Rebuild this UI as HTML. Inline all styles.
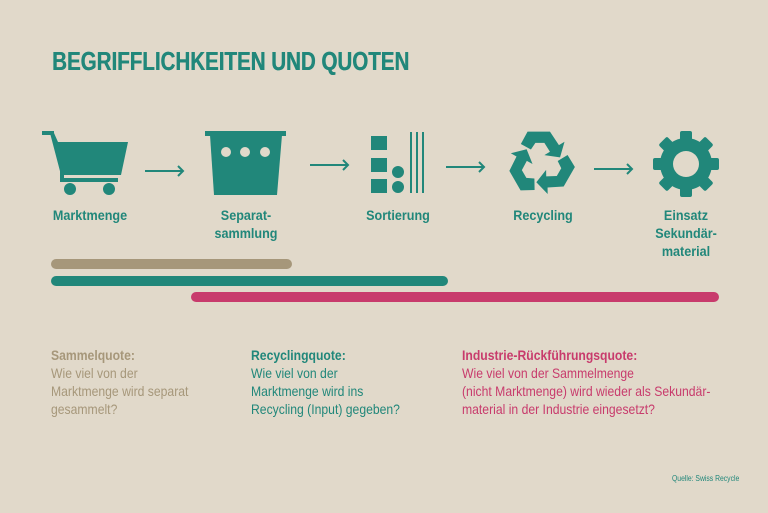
<!DOCTYPE html>
<html><head><meta charset="utf-8"><style>
body{margin:0;width:768px;height:513px;background:#e1d9ca;position:relative;overflow:hidden;font-family:"Liberation Sans Narrow","Liberation Sans",sans-serif}
.a{position:absolute;white-space:nowrap}
.t{color:#21877a}
.lbl{font-weight:bold;font-size:14px;color:#21877a;text-align:center;line-height:18px;transform:scaleX(0.9);transform-origin:center}
.p{font-size:14px;line-height:18px;transform:scaleX(0.87);transform-origin:left}
</style></head><body>
<div class="a t" style="left:52px;top:46px;font-size:26px;font-weight:bold;transform:scaleX(0.79);transform-origin:left;text-shadow:0.5px 0 0 #21877a">BEGRIFFLICHKEITEN UND QUOTEN</div>
<svg class="a" style="left:0;top:0" width="768" height="513">
<g fill="#21877a" stroke="none">
<rect x="42" y="131" width="12" height="4"/>
<polygon points="50,133 54,133 58,142 128,142 121,175 61,175"/>
<rect x="64" y="178" width="54" height="4"/>
<rect x="60" y="170" width="4" height="12"/>
<circle cx="70" cy="189" r="6"/><circle cx="109" cy="189" r="6"/>
<rect x="205" y="131" width="81" height="5"/>
<polygon points="210,135 282,135 277,195 214,195"/>
<rect x="371" y="136" width="16" height="14"/>
<rect x="371" y="158" width="16" height="14"/>
<rect x="371" y="179" width="16" height="14"/>
<circle cx="398" cy="172" r="6"/><circle cx="398" cy="187" r="6"/>
<rect x="410" y="132" width="2" height="61"/><rect x="416" y="132" width="2" height="61"/><rect x="422" y="132" width="2" height="61"/>
<circle cx="686" cy="164" r="26"/>
<g transform="translate(686,164)">
<rect x="-6" y="-33" width="12" height="66" rx="2"/>
<rect x="-6" y="-33" width="12" height="66" rx="2" transform="rotate(45)"/>
<rect x="-6" y="-33" width="12" height="66" rx="2" transform="rotate(90)"/>
<rect x="-6" y="-33" width="12" height="66" rx="2" transform="rotate(135)"/>
</g>
</g>
<circle cx="226" cy="152" r="5" fill="#e1d9ca"/><circle cx="245" cy="152" r="5" fill="#e1d9ca"/><circle cx="265" cy="152" r="5" fill="#e1d9ca"/>
<circle cx="686" cy="164" r="13" fill="#e1d9ca"/>
<g fill="#21877a" transform="translate(541,163) scale(1.12)">
<g id="arm"><polygon points="-12,-28 8,-28 16,-16 21,-19 17,-5 3,-7 8,-10 3,-18 -5,-18 -9,-12 -18,-17"/></g>
<use href="#arm" transform="rotate(120)"/>
<use href="#arm" transform="rotate(240)"/>
</g>
<g stroke="#21877a" stroke-width="2" fill="none">
<path d="M145 171H183M178 166L183 171L178 176"/>
<path d="M310 165H348M343 160L348 165L343 170"/>
<path d="M446 167H484M479 162L484 167L479 172"/>
<path d="M594 169H632M627 164L632 169L627 174"/>
</g>
<g stroke-linecap="round" stroke-width="10">
<line x1="56" y1="264" x2="287" y2="264" stroke="#a6977a"/>
<line x1="56" y1="281" x2="443" y2="281" stroke="#21877a"/>
<line x1="196" y1="297" x2="714" y2="297" stroke="#c83b6c"/>
</g>
</svg>
<div class="a lbl" style="left:40px;top:206px;width:100px">Marktmenge</div>
<div class="a lbl" style="left:196px;top:206px;width:100px">Separat-<br>sammlung</div>
<div class="a lbl" style="left:348px;top:206px;width:100px">Sortierung</div>
<div class="a lbl" style="left:493px;top:206px;width:100px">Recycling</div>
<div class="a lbl" style="left:636px;top:206px;width:100px">Einsatz<br>Sekundär-<br>material</div>
<div class="a p" style="left:51px;top:346px;color:#a6977a"><b>Sammelquote:</b><br>Wie viel von der<br>Marktmenge wird separat<br>gesammelt?</div>
<div class="a p t" style="left:251px;top:346px"><b>Recyclingquote:</b><br>Wie viel von der<br>Marktmenge wird ins<br>Recycling (Input) gegeben?</div>
<div class="a p" style="left:462px;top:346px;color:#c83b6c"><b>Industrie-Rückführungsquote:</b><br>Wie viel von der Sammelmenge<br>(nicht Marktmenge) wird wieder als Sekundär-<br>material in der Industrie eingesetzt?</div>
<div class="a t" style="left:672px;top:474px;font-size:8px;transform:scaleX(0.85);transform-origin:left">Quelle: Swiss Recycle</div>
</body></html>
